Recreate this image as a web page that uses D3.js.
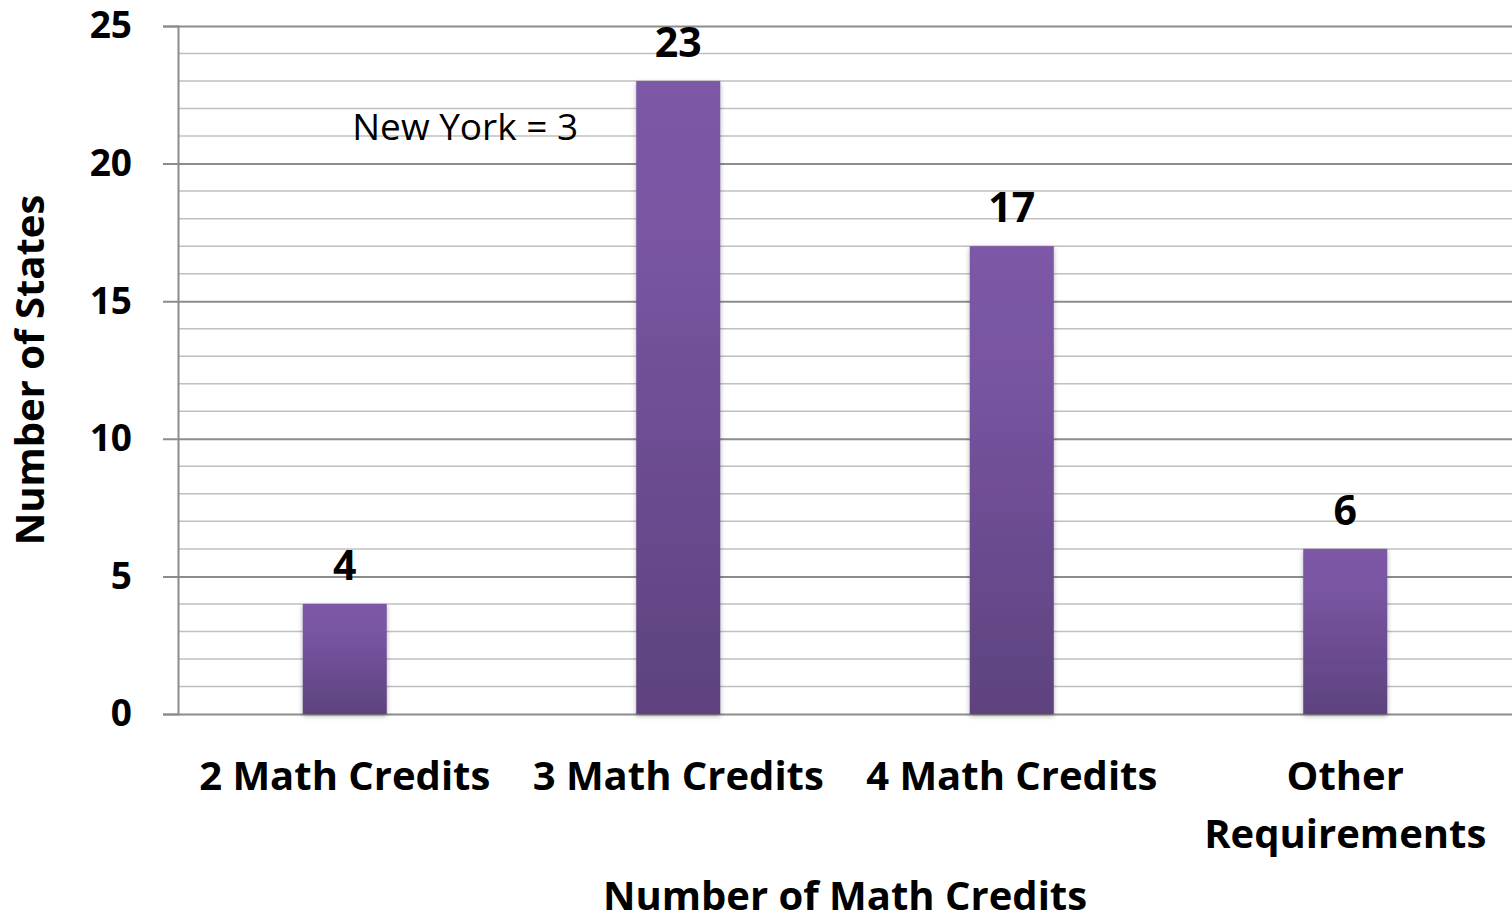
<!DOCTYPE html>
<html>
<head>
<meta charset="utf-8">
<title>Number of Math Credits</title>
<style>
  body { margin: 0; background: #fff; }
  text { font-family: "Open Sans", "Noto Sans", sans-serif; fill: #000; }
</style>
</head>
<body>
<svg id="chart" width="1512" height="922"></svg>
<script src="https://d3js.org/d3.v7.min.js"></script>
<script>
// data
const categories = [["2 Math Credits"], ["3 Math Credits"], ["4 Math Credits"], ["Other", "Requirements"]];
const values = [4, 23, 17, 6];
const yTicks = [0, 5, 10, 15, 20, 25];
const note = "New York = 3";

const svg = d3.select("#chart");
const margin = {left: 178, right: 0, top: 26, bottom: 208};
const W = 1512, H = 922;

const x = d3.scaleBand()
    .domain(d3.range(values.length))
    .range([margin.left, W - margin.right]);
const y = d3.scaleLinear()
    .domain([0, 25])
    .range([H - margin.bottom, margin.top]);

const barW = x.bandwidth() * 0.252;

const defs = svg.append("defs");
const grad = defs.append("linearGradient")
    .attr("id", "barGrad")
    .attr("x1", 0).attr("y1", 0).attr("x2", 0).attr("y2", 1);
grad.append("stop").attr("offset", "0%").attr("stop-color", "#7b58a6");
grad.append("stop").attr("offset", "25%").attr("stop-color", "#7955a2");
grad.append("stop").attr("offset", "100%").attr("stop-color", "#5d427e");

const shadow = defs.append("filter").attr("id", "shadow")
    .attr("x", "-20%").attr("y", "-5%").attr("width", "140%").attr("height", "115%");
shadow.append("feDropShadow")
    .attr("dx", 0).attr("dy", 2).attr("stdDeviation", 2.5)
    .attr("flood-color", "#000").attr("flood-opacity", 0.3);

// minor gridlines
svg.append("g")
  .selectAll("line")
  .data(d3.range(1, 25).filter(d => d % 5 != 0))
  .join("line")
    .attr("x1", margin.left).attr("x2", W)
    .attr("y1", d => y(d)).attr("y2", d => y(d))
    .attr("stroke", "#c0c0c0").attr("stroke-width", 1.5);

// y axis with major gridlines
const yAxis = svg.append("g")
    .attr("transform", `translate(${margin.left},0)`)
    .call(d3.axisLeft(y).tickValues(yTicks).tickSize(15).tickPadding(31));
yAxis.select(".domain").attr("stroke", "#8c8c8c").attr("stroke-width", 2);
yAxis.selectAll(".tick line").attr("stroke", "#8c8c8c").attr("stroke-width", 2)
    .attr("x2", W - margin.left).attr("x1", -15);
yAxis.selectAll(".tick text")
    .attr("font-family", "'Open Sans', sans-serif")
    .attr("font-size", 37).attr("font-weight", "bold").attr("fill", "#000");

// bars
svg.append("g")
  .selectAll("rect")
  .data(values)
  .join("rect")
    .attr("x", (d, i) => x(i) + (x.bandwidth() - barW) / 2)
    .attr("width", barW)
    .attr("y", d => y(d))
    .attr("height", d => y(0) - y(d))
    .attr("fill", "url(#barGrad)")
    .attr("filter", "url(#shadow)");

// value labels
svg.append("g")
  .selectAll("text")
  .data(values)
  .join("text")
    .attr("x", (d, i) => x(i) + x.bandwidth() / 2)
    .attr("y", d => y(d) - 24)
    .attr("text-anchor", "middle")
    .attr("font-size", 41).attr("font-weight", "bold")
    .text(d => d);

// category labels
const cat = svg.append("g")
  .selectAll("text")
  .data(categories)
  .join("text")
    .attr("x", (d, i) => x(i) + x.bandwidth() / 2)
    .attr("y", 790)
    .attr("text-anchor", "middle")
    .attr("font-size", 40).attr("font-weight", "bold");
cat.selectAll("tspan")
  .data(d => d)
  .join("tspan")
    .attr("x", function() { return d3.select(this.parentNode).attr("x"); })
    .attr("dy", (d, i) => i ? 58 : 0)
    .text(d => d);

// annotation
svg.append("text")
    .attr("x", x(1) + (x.bandwidth() - barW) / 2 - 58)
    .attr("y", y(20.85))
    .attr("text-anchor", "end")
    .attr("font-size", 37)
    .text(note);

// axis titles
svg.append("text")
    .attr("x", (margin.left + W) / 2)
    .attr("y", 910)
    .attr("text-anchor", "middle")
    .attr("font-size", 40).attr("font-weight", "bold")
    .text("Number of Math Credits");

svg.append("text")
    .attr("transform", `translate(44,${(y(0) + y(25)) / 2}) rotate(-90)`)
    .attr("text-anchor", "middle")
    .attr("font-size", 40).attr("font-weight", "bold")
    .text("Number of States");
</script>
</body>
</html>
